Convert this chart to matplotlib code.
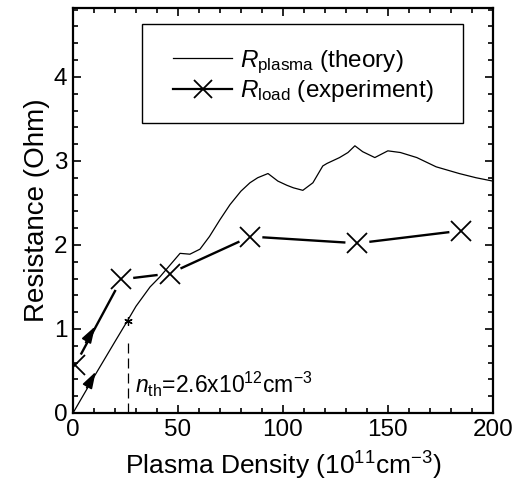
import numpy as np
import matplotlib
matplotlib.use('Agg')
import matplotlib.pyplot as plt
from matplotlib.patches import Rectangle
from matplotlib.ticker import MultipleLocator

plt.rcParams['font.family'] = ['Liberation Sans', 'DejaVu Sans']
plt.rcParams['mathtext.fontset'] = 'custom'
plt.rcParams['mathtext.rm'] = 'Liberation Sans'
plt.rcParams['mathtext.it'] = 'Liberation Sans:italic'
plt.rcParams['mathtext.bf'] = 'Liberation Sans:bold'

# theory curve R_plasma
density_theory = [0, 10, 20, 26, 30, 36.7, 41.4, 46.2, 51, 55.7, 60.5, 65, 70, 74.8,
                  80, 84.3, 88, 92.9, 97.6, 101.9, 105, 109.5, 114.3, 119, 121, 127,
                  131, 134.3, 138, 143.8, 150, 156, 163.8, 173, 184, 192, 200]
r_plasma = [0, 0.43, 0.85, 1.1, 1.27, 1.5, 1.62, 1.76, 1.9, 1.89, 1.95, 2.1, 2.3, 2.48,
            2.64, 2.74, 2.8, 2.85, 2.76, 2.71, 2.68, 2.65, 2.74, 2.94, 2.97, 3.04,
            3.1, 3.18, 3.11, 3.04, 3.12, 3.1, 3.04, 2.93, 2.85, 2.8, 2.76]

# experiment R_load
density_exp = [1, 23, 46, 84.5, 135.5, 185]
r_load = [0.57, 1.59, 1.66, 2.1, 2.02, 2.17]

n_th = 26
r_th = 1.1

fig = plt.figure(figsize=(5.16, 4.88), dpi=100)
ax = fig.add_axes([0.1415, 0.1537, 0.8135, 0.8299])

ax.plot(density_theory, r_plasma, color='black', lw=0.9, label=r'$R_{\rm plasma}$ (theory)')

# experiment line: segments stop short of the markers
ax.set_xlim(0, 200)
ax.set_ylim(0, 4.82)
pts = ax.transData.transform(np.column_stack([density_exp, r_load]))
gap = 12
for i in range(len(pts) - 1):
    p0, p1 = pts[i], pts[i + 1]
    d = (p1 - p0) / np.hypot(*(p1 - p0))
    a, b = p0 + d * gap, p1 - d * gap
    seg = ax.transData.inverted().transform([a, b])
    ax.plot(seg[:, 0], seg[:, 1], color='black', lw=1.7, solid_capstyle='butt')
ax.plot(density_exp, r_load, ls='none', marker='x', ms=14, mew=1.3, color='black')
# legend proxy
ax.plot([], [], color='black', lw=1.6, marker='x', ms=13, mew=1.3,
        label=r'$R_{\rm load}$ (experiment)')

# arrows along the rising parts
arrow = dict(arrowstyle='-|>,head_length=1.0,head_width=0.32', color='black', lw=1.2,
             shrinkA=0, shrinkB=0)
ax.annotate('', xy=(10.5, 1.03), xytext=(6, 0.84), arrowprops=arrow)
ax.annotate('', xy=(10.8, 0.49), xytext=(6.5, 0.3), arrowprops=arrow)

# threshold
ax.plot([n_th], [r_th], marker=(6, 2, 0), ms=6, mew=0.9, color='black')
ax.vlines(n_th, 0, 0.85, color='black', lw=0.9, linestyles=(0, (8, 4)))
ax.text(29.5, 0.24, r'$n_{\rm th}$=2.6x10$^{12}$cm$^{-3}$', fontsize=16.5, ha='left', va='baseline')

ax.xaxis.set_major_locator(MultipleLocator(50))
ax.xaxis.set_minor_locator(MultipleLocator(10))
ax.yaxis.set_major_locator(MultipleLocator(1))
ax.yaxis.set_minor_locator(MultipleLocator(0.2))
ax.tick_params(which='both', direction='in', top=True, right=True, width=1.2, labelsize=17.5)
ax.tick_params(which='major', length=6)
ax.tick_params(which='minor', length=3.5)
ax.tick_params(axis='x', pad=4)
ax.tick_params(axis='y', pad=4)
for s in ax.spines.values():
    s.set_linewidth(1.6)

ax.set_xlabel(r'Plasma Density (10$^{11}$cm$^{-3}$)', fontsize=19, labelpad=7)
ax.set_ylabel('Resistance (Ohm)', fontsize=20, labelpad=3)

leg = ax.legend(loc='upper left', bbox_to_anchor=(0.238, 0.90), borderaxespad=0,
                fontsize=17.5, frameon=False, borderpad=0,
                handlelength=2.45, labelspacing=0.1, handletextpad=0.3)
ax.add_patch(Rectangle((0.164, 0.716), 0.764, 0.244, transform=ax.transAxes,
                       fill=False, edgecolor='black', lw=1.0, zorder=5))

plt.savefig('out.png', dpi=100)
